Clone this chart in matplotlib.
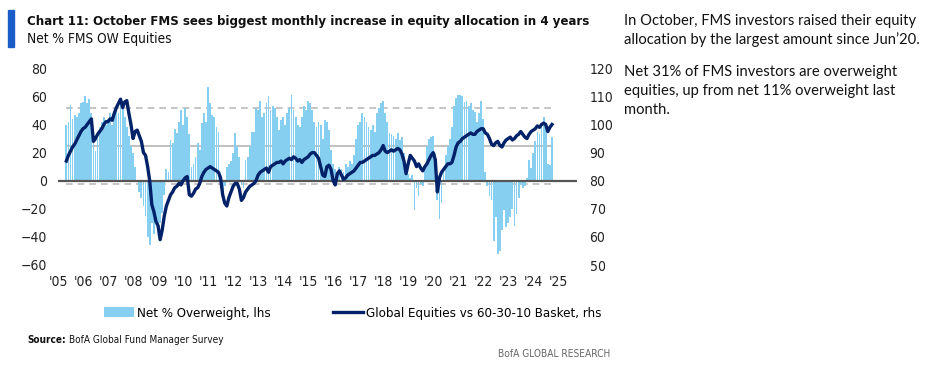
import numpy as np
import pandas as pd
import matplotlib
matplotlib.use("Agg")
import matplotlib.pyplot as plt
from matplotlib import font_manager as fm
from matplotlib.patches import Patch, Rectangle
from matplotlib.lines import Line2D

# Net % FMS overweight equities, monthly from May 2005 to Oct 2024 (lhs)
net_ow = [
    40, 42, 54, 44, 47, 45, 48, 55,                         # 2005 (May-Dec)
    56, 60, 55, 58, 48, 35, 21, 30, 38, 42, 45, 40,         # 2006
    44, 48, 40, 46, 50, 48, 55, 57, 45, 38, 32, 25,         # 2007
    20, 10, 0, -8, -12, -18, -25, -40, -46, -30, -38, -28,  # 2008
    -35, -30, -23, -10, 8, 6, 29, 27, 37, 34, 42, 50,       # 2009
    40, 52, 45, 33, 10, 12, 17, 27, 22, 41, 48, 42,         # 2010
    67, 55, 47, 45, 38, 35, -3, -8, -4, 10, 12, 14,         # 2011
    20, 34, 25, 17, -3, -5, 15, 17, 25, 35, 35, 52,         # 2012
    50, 57, 45, 48, 55, 60, 50, 53, 52, 45, 36, 43,         # 2013
    45, 40, 48, 52, 61, 50, 45, 40, 38, 45, 53, 50,         # 2014
    57, 55, 50, 42, 38, 42, 40, 30, 43, 42, 36, 22,         # 2015
    12, 8, 5, 10, 8, 6, 12, 10, 14, 12, 18, 30,             # 2016
    40, 42, 48, 45, 42, 38, 36, 40, 35, 48, 52, 55,         # 2017
    57, 48, 42, 34, 33, 32, 30, 34, 29, 31, 20, 5,          # 2018
    5, 2, 4, -21, -5, -11, -2, -4, 9, 25, 30, 31,           # 2019
    32, 20, -14, -27, -16, 10, 18, 25, 30, 38, 53, 59,      # 2020
    61, 61, 60, 56, 57, 53, 55, 50, 49, 42, 48, 57,         # 2021
    44, 6, -4, -11, -14, -43, -26, -52, -50, -35, -21, -33, # 2022
    -30, -26, -20, -32, -24, -12, -3, -5, -4, 2, 15, 9,     # 2023
    20, 28, 35, 33, 38, 45, 40, 12, 11, 31,                 # 2024 (Jan-Oct)
]

# Global equities vs 60-30-10 basket (rhs)
eq_vs_basket = [
    87, 89, 90.5, 92, 93, 94.5, 96, 97.5,
    98.5, 99, 100, 101, 102, 94, 95, 96.5, 97.5, 98.5, 100, 101,
    101, 102, 101.5, 104, 106, 107.5, 109, 106, 108, 108.5, 104, 100,
    95, 97.5, 98, 96, 94, 90, 89, 85, 80, 71.5, 69, 65.5,
    64, 59, 62.5, 67.5, 71, 73, 75, 76, 77.5, 78, 79, 78.5,
    80, 81, 81.5, 75, 74.5, 75.5, 77, 77.5, 79, 81.5, 83, 84,
    84.5, 85, 84.5, 84, 83.5, 83, 81, 75, 72, 71, 74, 76,
    78, 79, 79, 77, 73, 74, 76, 77, 78, 78.5, 79, 80,
    82, 83, 83.5, 84, 84.5, 83, 85, 85.5, 86, 86.5, 86.5, 87,
    86, 87, 87.5, 88, 87.5, 88.5, 88, 87, 87.5, 86.5, 87.5, 88,
    88.5, 89.5, 90, 90, 89, 88, 85, 82, 81.5, 85, 85.5, 84,
    80, 78.5, 82.5, 83.5, 82, 80.5, 81, 82, 82.5, 83, 83.5, 84.5,
    85.5, 86.5, 86.5, 87, 87.5, 88, 88.5, 89, 89, 89.5, 90, 91,
    92.5, 90.5, 90, 90.5, 91, 90.5, 91, 91.5, 91, 89.5, 87, 82.5,
    86, 89, 88, 87, 85, 86, 84.5, 83.5, 85, 86, 87.5, 89,
    90, 87.5, 76, 81, 83, 84, 85, 86, 86, 86.5, 89, 92,
    93.5, 94, 95, 95.5, 96, 96.5, 97, 96.5, 96.5, 97.5, 98, 98.5,
    98.5, 97, 96.5, 95, 93, 92.5, 93.5, 94, 92.5, 92, 93.5, 94.5,
    95, 95.5, 94.5, 95, 96, 96.5, 97.5, 96.5, 95.5, 95, 96.5, 97.5,
    98, 98.5, 99.5, 99, 100, 100.5, 100, 97.5, 99, 100,
]

# long-run average and +/- 1 stdev bands (lhs)
avg_level = 25
band_hi = 52
band_lo = -2

year_labels = ["'%02d" % (y % 100) for y in range(2005, 2026)]

dates = pd.date_range("2005-05-01", periods=len(net_ow), freq="MS")
x = dates.year + (dates.month - 1) / 12.0

BAR_BLUE = "#86CFF0"
NAVY = "#012169"

# pick a narrow font if one is installed
ttf = fm.fontManager.ttflist
names = {f.name for f in ttf}
if any(f.name == "DejaVu Sans" and "ondensed" in f.fname for f in ttf):
    NARROW = dict(family="DejaVu Sans", stretch="condensed")
elif "Liberation Sans Narrow" in names:
    NARROW = dict(family="Liberation Sans Narrow")
else:
    NARROW = dict(family="Roboto")

W, H = 948, 373
fig = plt.figure(figsize=(W / 100, H / 100), dpi=100)
renderer = fig.canvas.get_renderer()


def fit(txt, width_px):
    # scale the font so the text spans roughly the width seen in the chart
    w = txt.get_window_extent(renderer).width
    txt.set_fontsize(txt.get_fontsize() * width_px / w)
    return txt


ax = fig.add_axes([58 / W, 1 - 265 / H, (577 - 58) / W, (265 - 68.3) / H])
ax2 = ax.twinx()

ax.bar(x, net_ow, width=0.85 / 12, color=BAR_BLUE, linewidth=0, antialiased=False, zorder=2)
ax.axhline(0, color="#555555", lw=1.6, zorder=3)
ax.hlines([band_hi, band_lo], x[0], x[-1], colors="#BBBBBB", linestyles=(0, (4, 3)), lw=1.2, zorder=1)
ax.hlines(avg_level, x[0], x[-1], colors="#BBBBBB", lw=1.3, zorder=1)

ax2.plot(x, eq_vs_basket, color=NAVY, lw=2.4, zorder=4, solid_joinstyle="round")

ax.set_xlim(2005.0, 2025.75)
ax.set_ylim(-60, 80)
ax2.set_ylim(50, 120)
ax.set_yticks(range(-60, 81, 20))
ax2.set_yticks(range(50, 121, 10))
ax.set_xticks(range(2005, 2026))
ax.set_xticklabels(year_labels)

for a in (ax, ax2):
    for s in a.spines.values():
        s.set_visible(False)
    a.tick_params(length=0, labelsize=10, colors="#222222")
    for lab in a.get_xticklabels() + a.get_yticklabels():
        lab.set(**NARROW)
ax.tick_params(axis="x", pad=7)
ax.tick_params(axis="y", pad=8)
ax2.tick_params(axis="y", pad=9)
ax.set_zorder(ax2.get_zorder() - 1)
ax2.patch.set_visible(False)

# legend
leg_size = 9.5
em = leg_size * 100 / 72
handles = [Patch(facecolor=BAR_BLUE, edgecolor="none"),
           Line2D([], [], color=NAVY, lw=2.4)]
fig.legend(handles, ["Net % Overweight, lhs", "Global Equities vs 60-30-10 Basket, rhs"],
           loc="center left", bbox_to_anchor=(92 / W, 1 - 313 / H), ncol=2, frameon=False,
           prop=dict(size=leg_size, **NARROW), columnspacing=62 / em,
           handlelength=30 / em, handletextpad=0.25, borderpad=0.4)

# title block
fig.patches.append(Rectangle((8 / W, 1 - 47 / H), 6 / W, 37 / H,
                             transform=fig.transFigure, color="#1A5DC8", zorder=5))
fit(fig.text(27 / W, 1 - 21 / H,
             "Chart 11: October FMS sees biggest monthly increase in equity allocation in 4 years",
             weight="bold", size=10.5, va="center", ha="left", color="#111111", **NARROW), 565)
fit(fig.text(27 / W, 1 - 39 / H, "Net % FMS OW Equities", size=10,
             va="center", ha="left", color="#111111", **NARROW), 145)

# source / footer
src = fig.text(27 / W, 1 - 340 / H, "Source:", weight="bold", size=8,
               va="center", ha="left", color="#111111", **NARROW)
rest = fig.text(0, 1 - 340 / H, "BofA Global Fund Manager Survey", size=8,
                va="center", ha="left", color="#111111", **NARROW)
scale = 195 / (src.get_window_extent(renderer).width + 3 + rest.get_window_extent(renderer).width)
src.set_fontsize(8 * scale)
rest.set_fontsize(8 * scale)
rest.set_x((src.get_window_extent(renderer).x1 + 3) / W)
fit(fig.text(610 / W, 1 - 354 / H, "BofA GLOBAL RESEARCH", size=8,
             va="center", ha="right", color="#666666", **NARROW), 112)

# commentary on the right
side = ["In October, FMS investors raised their equity",
        "allocation by the largest amount since Jun\u201920."]
side2 = ["Net 31% of FMS investors are overweight",
         "equities, up from net 11% overweight last",
         "month."]
for i, line in enumerate(side):
    fig.text(624 / W, 1 - (21 + 19 * i) / H, line, family=["Lato", "DejaVu Sans"], size=10.6,
             va="center", ha="left", color="#111111")
for i, line in enumerate(side2):
    fig.text(624 / W, 1 - (72 + 19.2 * i) / H, line, family=["Lato", "DejaVu Sans"], size=10.6,
             va="center", ha="left", color="#111111")

fig.savefig("out.png", dpi=100)
